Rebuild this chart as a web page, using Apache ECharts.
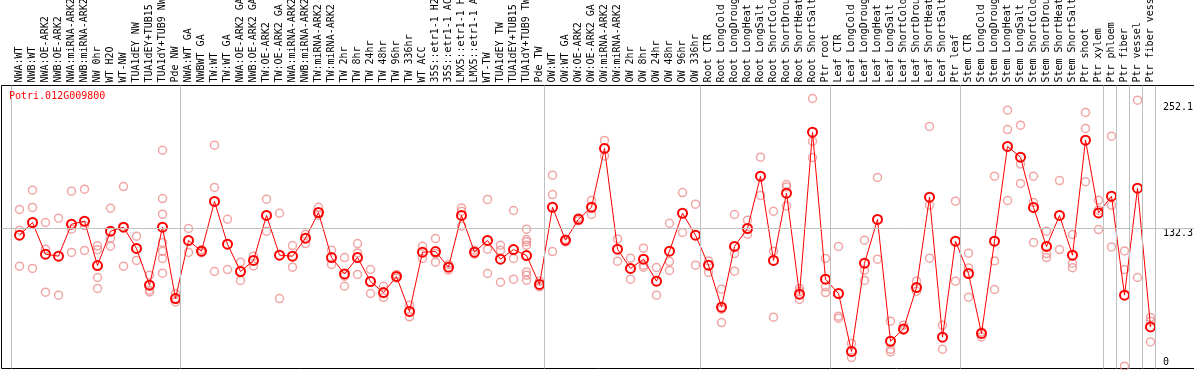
<!DOCTYPE html>
<html><head><meta charset="utf-8">
<script src="https://cdn.jsdelivr.net/npm/echarts@6/dist/echarts.min.js"></script>
<style>html,body{margin:0;padding:0;background:#fff;overflow:hidden}#c{width:1194px;height:370px}</style>
</head><body><div id="c"></div>
<script>
const title = 'Potri.012G009800';
const categories = [
'NWA:WT','NWB:WT','NWA:OE-ARK2','NWB:OE-ARK2','NWA:miRNA-ARK2','NWB:miRNA-ARK2','NW 0hr','WT H2O','WT-NW','TUA1dEY NW','TUA1dEY+TUB15','TUA1dY+TUB9 NW','Pde NW',
'NWA:WT GA','NWBWT GA','TW:WT','TW:WT GA','NWA:OE-ARK2 GA','NWB:OE-ARK2 GA','TW:OE-ARK2','TW:OE-ARK2 GA','NWA:miRNA-ARK2','NWB:miRNA-ARK2','TW:miRNA-ARK2','TW:miRNA-ARK2','TW 2hr','TW 8hr','TW 24hr','TW 48hr','TW 96hr','TW 336hr','WT ACC','35S::etr1-1 H2O','35S::etr1-1 ACC','LMX5::etr1-1 H2O','LMX5::etr1-1 ACC','WT-TW','TUA1dEY TW','TUA1dEY+TUB15','TUA1dY+TUB9 TW','Pde TW',
'OW:WT','OW:WT GA','OW:OE-ARK2','OW:OE-ARK2 GA','OW:miRNA-ARK2','OW:miRNA-ARK2','OW 2hr','OW 8hr','OW 24hr','OW 48hr','OW 96hr','OW 336hr',
'Root CTR','Root LongCold','Root LongDrought','Root LongHeat','Root LongSalt','Root ShortCold','Root ShortDrought','Root ShortHeat','Root ShortSalt','Ptr root',
'Leaf CTR','Leaf LongCold','Leaf LongDrought','Leaf LongHeat','Leaf LongSalt','Leaf ShortCold','Leaf ShortDrought','Leaf ShortHeat','Leaf ShortSalt','Ptr leaf',
'Stem CTR','Stem LongCold','Stem LongDrought','Stem LongHeat','Stem LongSalt','Stem ShortCold','Stem ShortDrought','Stem ShortHeat','Stem ShortSalt','Ptr shoot','Ptr xylem',
'Ptr phloem','Ptr fiber','Ptr vessel','Ptr fiber vessel'
];
const groupSizes = [13, 28, 12, 10, 10, 11, 1, 1, 1, 1];
const means = [
125.9, 138.0, 107.9, 106.0, 136.4, 139.2, 97.1, 129.7, 133.5, 113.3, 78.4, 133.5, 65.7,
120.9, 110.7, 158.0, 117.4, 91.4, 101.9, 144.7, 106.9, 106.0, 123.1, 147.5, 104.7, 89.1, 104.7, 81.9, 71.4, 86.7, 53.4, 109.8, 110.4, 95.5, 144.7, 109.8, 120.9, 103.1, 112.3, 106.6, 79.1,
152.5, 121.2, 141.1, 152.5, 208.4, 112.6, 94.3, 103.1, 82.2, 110.7, 146.8, 125.9,
97.4, 57.5, 115.2, 132.3, 182.0, 101.9, 165.9, 69.8, 223.9, 84.1,
70.5, 15.4, 99.3, 140.9, 25.1, 36.8, 76.2, 162.1, 29.0, 120.2,
89.5, 32.5, 120.2, 210.3, 200.1, 152.3, 115.2, 144.7, 106.9, 216.3, 147.1,
163.0, 68.9, 170.6, 38.7
];
const reps = [
[150.4,130.7,96.5],[168.7,152.3,94.3],[138.0,112.6,71.7],[142.1,68.9],[167.8,131.6,109.5],[169.7,135.1,111.4],[115.8,112.1,85.7,75.3],[151.6,123.1,115.5],[172.2,133.5,96.5],[125.0,101.9],[87.9,73.6,72.0],[206.7,160.8,145.9,119.0,110.7,103.8,89.8],[70.5,62.5],
[132.3,109.5],[112.1,109.3],[211.5,171.3,91.4],[141.1,93.3],[100.3,82.9],[106.0,96.7],[160.2,129.7],[146.8,65.7],[116.1,95.5],[126.9,118.0],[152.5,144.9],[111.7,98.1],[104.7,86.9,77.4],[118.0,109.1,88.6],[93.3,70.5],[77.4,66.7],[88.6,85.3],[59.4,48.3],[115.5,103.8],[122.8,108.5,100.3],[98.1,92.7],[151.9,148.7,134.5],[111.7,107.9],[159.9,112.6,89.5],[116.4,111.7,81.2],[149.4,103.8,84.1],[131.6,121.8,119.6,116.4,91.0,87.9,83.1],[82.2,76.8],
[183.0,164.6,110.4],[122.1,119.6],[142.6,139.7],[158.9,145.6],[216.0,201.3],[122.4,101.2],[104.1,84.1],[113.6,97.4,95.5],[95.2,68.9],[137.3,100.9,92.4],[166.5,128.5],[155.4,97.4],
[101.5,90.5],[74.6,55.6,42.9],[145.6,108.5,91.7],[140.2,126.9],[200.1,163.7],[148.7,110.7,48.0],[174.1,171.8,153.8],[75.3,72.7,64.8],[255.9,215.3,199.8],[103.8,76.8,71.4],
[115.2,48.9,47.0],[23.0,9.7],[121.2,92.7,82.9],[180.8,103.1],[44.2,17.5,15.0],[40.4,35.6],[82.2,72.7],[229.3,154.4,104.1],[40.4,17.5],[158.3,82.2],
[108.8,94.8,67.0],[34.0,29.2],[182.0,101.5,74.3],[244.8,226.4,158.9],[230.5,193.7,175.1],[182.0,157.0,119.0],[129.7,108.5,104.7],[177.9,112.3],[126.6,99.3,95.0],[242.6,227.4,176.8],[159.2,149.7,131.3],
[220.1,154.4,114.8],[111.0,93.3,1.4],[254.3,85.7],[47.7,44.2,24.5]
];
const yTickValues = [0, 132.3, 252.1];
const refLineValue = 132.3;

const FONT = '"DejaVu Sans Mono", monospace';
const boundaries = [0];
let acc = 0;
groupSizes.forEach(s => { acc += s; boundaries.push(acc); });
const sepValues = boundaries.map(b => b - 8 / 13);
const repPoints = [];
reps.forEach((arr, i) => arr.forEach(v => repPoints.push([i, v])));
const meanPoints = means.map((v, i) => [i, v]);
const GRID_LEFT = 1.5, GRID_W = 1196;
const xMin = -(19.5 - GRID_LEFT) / 13;
const xMax = xMin + GRID_W / 13;
const yMin = -0.81, yMax = 268.25;

const chart = echarts.init(document.getElementById('c'), null, {renderer: 'canvas'});
chart.setOption({
  animation: false,
  backgroundColor: '#fff',
  title: {
    text: title, left: 9, top: 91, padding: 0,
    textStyle: {color: '#ff0000', fontSize: 10, fontFamily: FONT, fontWeight: 'normal'}
  },
  grid: {
    left: GRID_LEFT, top: 85.5, width: GRID_W, height: 283,
    show: true, borderColor: '#000', borderWidth: 1, backgroundColor: 'transparent',
    containLabel: false, outerBoundsMode: 'none'
  },
  xAxis: [{
    type: 'value', position: 'top', min: xMin, max: xMax,
    axisLine: {show: false},
    axisTick: {show: true, customValues: sepValues, length: 86, inside: false, lineStyle: {color: '#c0c0c0', width: 1}},
    axisLabel: {
      show: true, customValues: categories.map((_, i) => i),
      formatter: v => categories[Math.round(v)], rotate: 90, margin: 3,
      fontSize: 10, fontFamily: FONT, color: '#000'
    },
    splitLine: {show: false}
  }],
  yAxis: [{
    type: 'value', position: 'right', min: yMin, max: yMax,
    axisLine: {show: false}, axisTick: {show: false}, splitLine: {show: false},
    axisLabel: {
      show: true, inside: true, align: 'left', margin: 34.5,
      customValues: yTickValues,
      formatter: v => (v === 0 ? '{lo|0}' : '{hi|' + v + '}'),
      fontSize: 10, fontFamily: FONT, color: '#000',
      rich: {
        hi: {padding: [10, 0, 0, 0], fontSize: 10, fontFamily: FONT, color: '#000'},
        lo: {padding: [0, 0, 10, 0], fontSize: 10, fontFamily: FONT, color: '#000'}
      }
    }
  }],
  series: [{
    type: 'line', data: [], z: 1, silent: true,
    markLine: {
      silent: true, symbol: ['none', 'none'], label: {show: false},
      lineStyle: {color: '#c0c0c0', type: 'solid', width: 1},
      emphasis: {disabled: true},
      data: sepValues.map(v => ({xAxis: v})).concat([{yAxis: refLineValue}])
    }
  }, {
    name: 'replicates', type: 'scatter', data: repPoints, z: 2, silent: true,
    symbol: 'circle', symbolSize: 8,
    itemStyle: {color: 'rgba(0,0,0,0)', borderColor: '#ee9090', borderWidth: 1.5}
  }, {
    name: 'mean', type: 'line', data: meanPoints, z: 3, silent: true,
    symbol: 'circle', symbolSize: 9, showSymbol: true,
    itemStyle: {color: 'rgba(0,0,0,0)', borderColor: '#ff0000', borderWidth: 2},
    lineStyle: {color: '#ff0000', width: 1}
  }]
});
</script>
</body></html>
